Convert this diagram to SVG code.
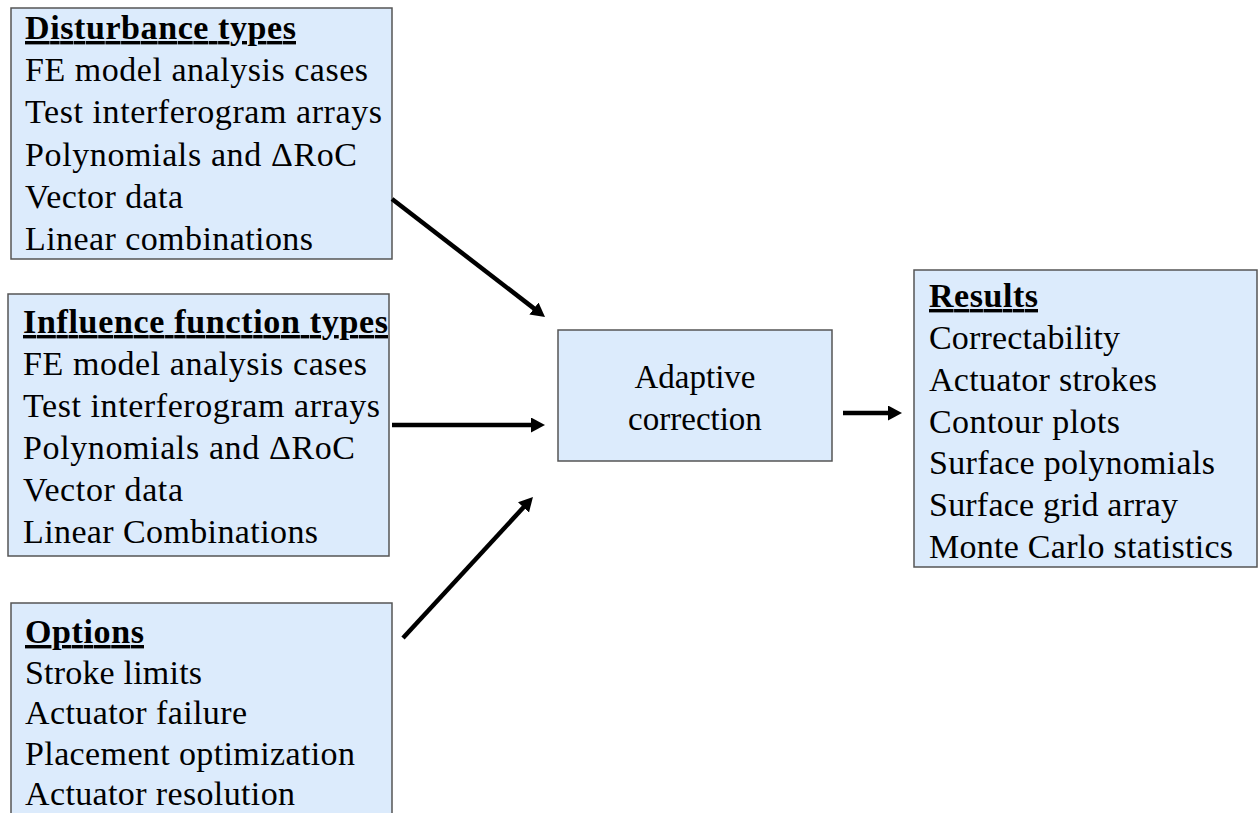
<svg xmlns="http://www.w3.org/2000/svg" width="1259" height="813" viewBox="0 0 1259 813">
<style>
.box{fill:#dcebfc;stroke:#555;stroke-width:1.5}
text{font-family:"Liberation Serif","Times New Roman",serif;font-size:34px;fill:#000}
.h{font-weight:bold;text-decoration:underline}
.c{font-size:33px}
.conn{stroke:#000;stroke-width:4.5;fill:none;marker-end:url(#ah)}
</style>
<defs>
<marker id="ah" markerUnits="userSpaceOnUse" markerWidth="16" markerHeight="16" refX="4" refY="7.5" orient="auto">
<path d="M0,0 L14,7.5 L0,15 z" fill="#000"/>
</marker>
</defs>
<rect width="1259" height="813" fill="#fff"/>
<g id="disturbance">
<rect class="box" x="11" y="8" width="381" height="251"/>
<text class="h" x="25" y="39" textLength="271" lengthAdjust="spacing">Disturbance types</text>
<text x="25" y="81" textLength="343" lengthAdjust="spacing">FE model analysis cases</text>
<text x="25" y="123" textLength="357" lengthAdjust="spacing">Test interferogram arrays</text>
<text x="25" y="166" textLength="332" lengthAdjust="spacing">Polynomials and ΔRoC</text>
<text x="25" y="208" textLength="158" lengthAdjust="spacing">Vector data</text>
<text x="25" y="250" textLength="288" lengthAdjust="spacing">Linear combinations</text>
</g>
<g id="influence">
<rect class="box" x="8" y="294" width="381" height="262"/>
<text class="h" x="23" y="333" textLength="365" lengthAdjust="spacing">Influence function types</text>
<text x="23" y="375" textLength="344" lengthAdjust="spacing">FE model analysis cases</text>
<text x="23" y="417" textLength="357" lengthAdjust="spacing">Test interferogram arrays</text>
<text x="23" y="459" textLength="332" lengthAdjust="spacing">Polynomials and ΔRoC</text>
<text x="23" y="501" textLength="160" lengthAdjust="spacing">Vector data</text>
<text x="23" y="543" textLength="295" lengthAdjust="spacing">Linear Combinations</text>
</g>
<g id="options">
<rect class="box" x="11" y="603" width="381" height="220"/>
<text class="h" x="25" y="643" textLength="119" lengthAdjust="spacing">Options</text>
<text x="25" y="683.5" textLength="177" lengthAdjust="spacing">Stroke limits</text>
<text x="25" y="724" textLength="222" lengthAdjust="spacing">Actuator failure</text>
<text x="25" y="764.5" textLength="330" lengthAdjust="spacing">Placement optimization</text>
<text x="25" y="805" textLength="270" lengthAdjust="spacing">Actuator resolution</text>
</g>
<g id="adaptive">
<rect class="box" x="558" y="330" width="274" height="131"/>
<text class="c" x="695" y="388" text-anchor="middle">Adaptive</text>
<text class="c" x="695" y="430" text-anchor="middle">correction</text>
</g>
<g id="results">
<rect class="box" x="914" y="270" width="343" height="297"/>
<text class="h" x="929" y="307" textLength="109" lengthAdjust="spacing">Results</text>
<text x="929" y="349" textLength="191" lengthAdjust="spacing">Correctability</text>
<text x="929" y="391" textLength="228" lengthAdjust="spacing">Actuator strokes</text>
<text x="929" y="433" textLength="191" lengthAdjust="spacing">Contour plots</text>
<text x="929" y="474" textLength="286" lengthAdjust="spacing">Surface polynomials</text>
<text x="929" y="516" textLength="249" lengthAdjust="spacing">Surface grid array</text>
<text x="929" y="558" textLength="304" lengthAdjust="spacing">Monte Carlo statistics</text>
</g>
<g id="connectors">
<line class="conn" x1="392" y1="199" x2="537.1" y2="310.9"/>
<line class="conn" x1="392" y1="425" x2="535" y2="425"/>
<line class="conn" x1="403" y1="638" x2="526.2" y2="504.4"/>
<line class="conn" x1="843" y1="413" x2="892" y2="413"/>
</g>
</svg>
